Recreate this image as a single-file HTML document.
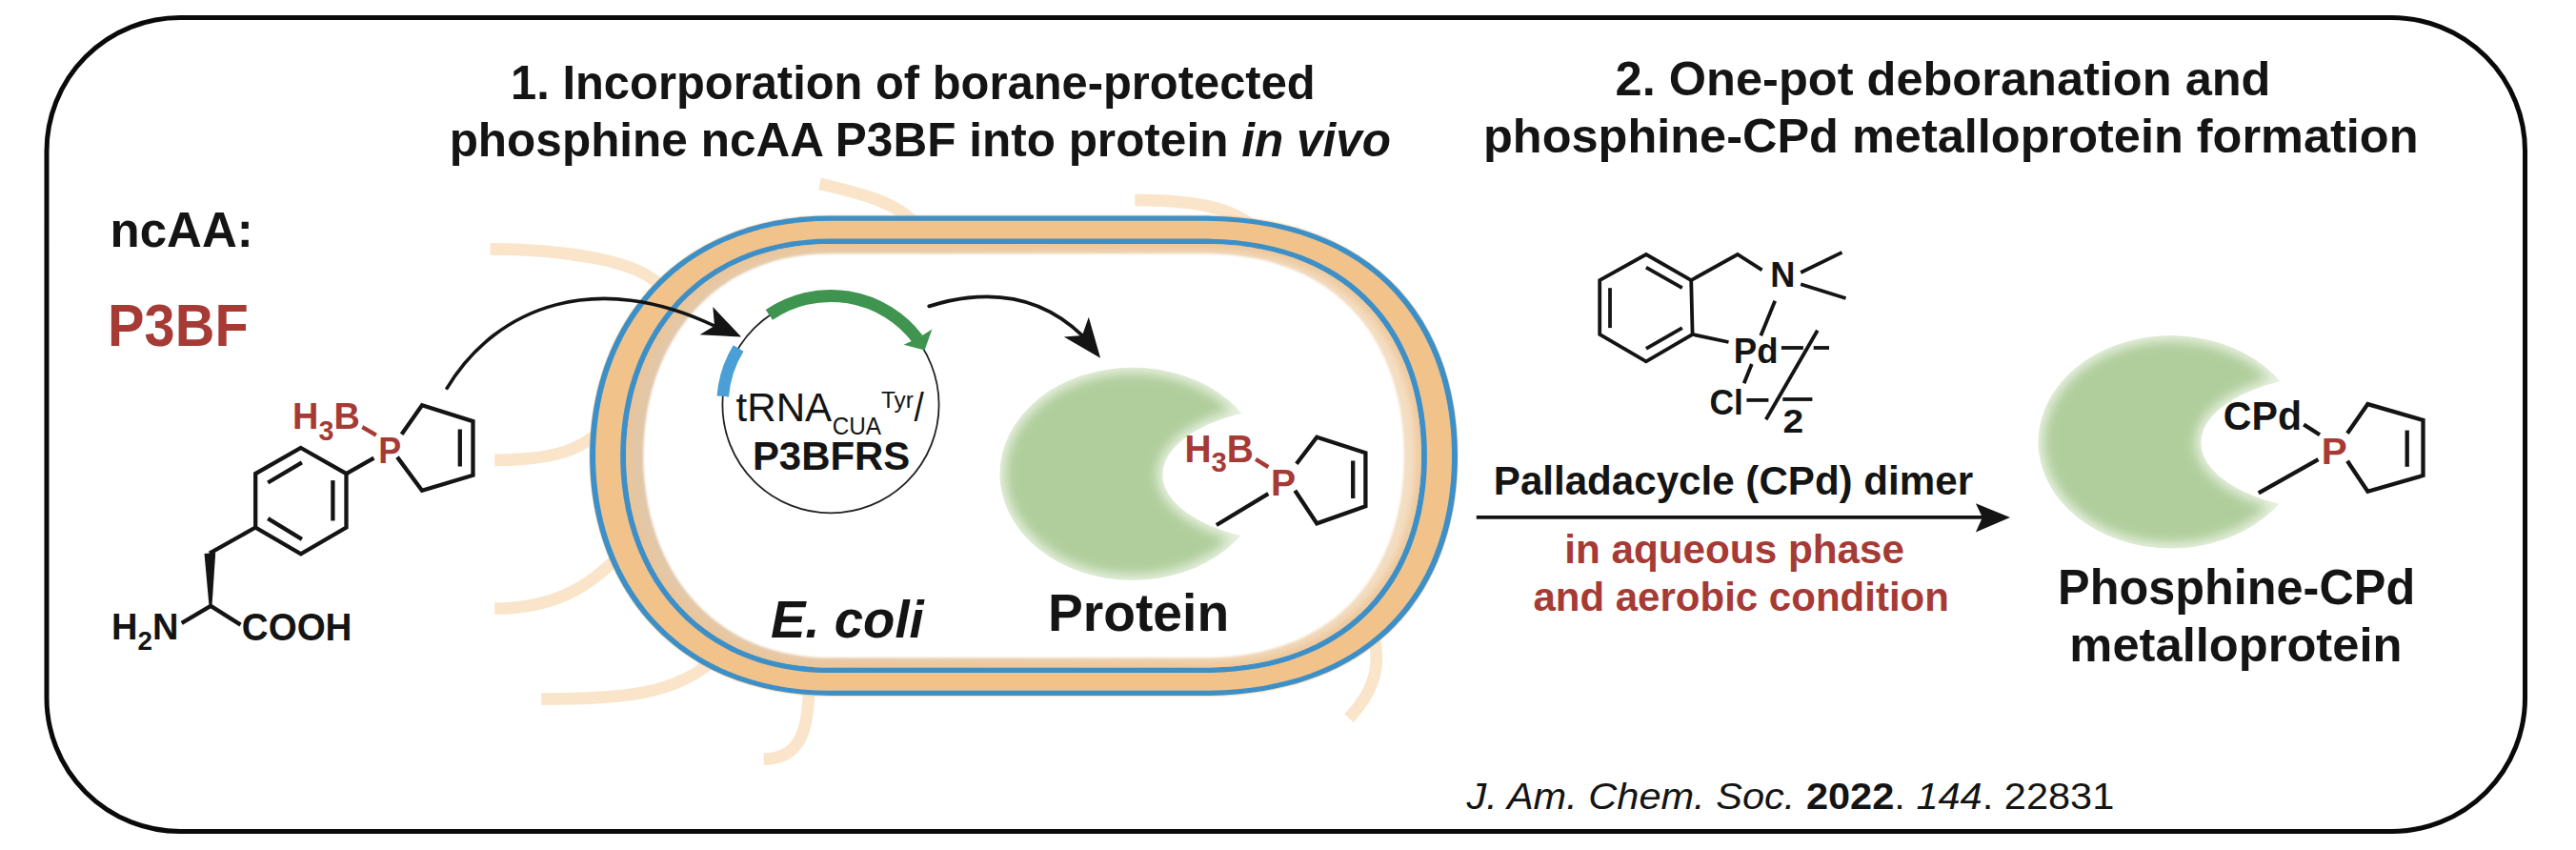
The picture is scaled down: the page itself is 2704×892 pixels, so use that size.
<!DOCTYPE html><html><head><meta charset='utf-8'><style>html,body{margin:0;padding:0;background:#fff;width:2704px;height:892px;overflow:hidden}svg{display:block}</style></head><body><svg width='2704' height='892' viewBox='0 0 2704 892' font-family='Liberation Sans, sans-serif'>
<defs><filter id='bl' x='-20%' y='-20%' width='140%' height='140%'><feGaussianBlur stdDeviation='6'/></filter><filter id='bl3' x='-10%' y='-10%' width='120%' height='120%'><feGaussianBlur stdDeviation='1.2'/></filter><filter id='bl4' x='-10%' y='-10%' width='120%' height='120%'><feGaussianBlur stdDeviation='4'/></filter><linearGradient id='bandg' gradientUnits='userSpaceOnUse' x1='620' y1='0' x2='1530' y2='0'><stop offset='0' stop-color='#e0c6a8'/><stop offset='0.5' stop-color='#ecd2b2'/><stop offset='1' stop-color='#f5e0c6'/></linearGradient></defs>
<rect width='2704' height='892' fill='#fff'/>
<rect x='49' y='18.5' width='2601.5' height='854' rx='140' ry='140' fill='none' stroke='#0a0a0a' stroke-width='5'/>
<path d='M514.6,261.4 C559.4,261.4 685.8,267.1 700,312' fill='none' stroke='#fae5cb' stroke-width='12.7'/>
<path d='M519.2,482.8 C592,482.8 612,470 648,438' fill='none' stroke='#fae5cb' stroke-width='12.7'/>
<path d='M519.2,638.6 C591.3,638.6 627.4,607.7 658,575' fill='none' stroke='#fae5cb' stroke-width='12.7'/>
<path d='M568.2,733.6 C650.5,733.6 709.4,730.1 752,690' fill='none' stroke='#fae5cb' stroke-width='12.7'/>
<path d='M801.7,796.6 C838,796 849,770 849,720' fill='none' stroke='#fae5cb' stroke-width='12.7'/>
<path d='M860.4,192.8 C900,202 945,212 965,240' fill='none' stroke='#fae5cb' stroke-width='12.7'/>
<path d='M1191.3,209.8 C1240,210 1290,214 1318,240' fill='none' stroke='#fae5cb' stroke-width='12.7'/>
<path d='M1416,753.6 C1441,727 1452,700 1440,660' fill='none' stroke='#fae5cb' stroke-width='12.7'/>
<path d='M871.80,225.50 L1263.50,225.50 C1446.84,225.50 1530.80,339.44 1530.80,478.30 C1530.80,617.16 1446.84,731.10 1263.50,731.10 L871.80,731.10 C707.08,731.10 618.30,614.86 618.30,478.30 C618.30,341.74 707.08,225.50 871.80,225.50 Z' fill='#f1c28a' opacity='0.5'/>
<path d='M871.80,226.60 L1263.50,226.60 C1446.29,226.60 1530.00,340.04 1530.00,478.30 C1530.00,616.56 1446.29,730.00 1263.50,730.00 L871.80,730.00 C707.59,730.00 619.10,614.27 619.10,478.30 C619.10,342.33 707.59,226.60 871.80,226.60 Z' fill='#3d8fc7'/>
<path d='M871.80,231.80 L1263.50,231.80 C1442.18,231.80 1524.00,342.90 1524.00,478.30 C1524.00,613.70 1442.18,724.80 1263.50,724.80 L871.80,724.80 C711.49,724.80 625.10,611.46 625.10,478.30 C625.10,345.14 711.49,231.80 871.80,231.80 Z' fill='#f1c28a'/>
<path d='M871.80,250.60 L1263.50,250.60 C1424.28,250.60 1497.90,353.22 1497.90,478.30 C1497.90,603.38 1424.28,706.00 1263.50,706.00 L871.80,706.00 C728.45,706.00 651.20,601.30 651.20,478.30 C651.20,355.30 728.45,250.60 871.80,250.60 Z' fill='#3d8fc7'/>
<clipPath id='bandclip'><path d='M871.80,256.00 L1263.50,256.00 C1420.23,256.00 1492.00,356.19 1492.00,478.30 C1492.00,600.41 1420.23,700.60 1263.50,700.60 L871.80,700.60 C732.29,700.60 657.10,598.39 657.10,478.30 C657.10,358.21 732.29,256.00 871.80,256.00 Z'/></clipPath>
<path d='M871.80,256.00 L1263.50,256.00 C1420.23,256.00 1492.00,356.19 1492.00,478.30 C1492.00,600.41 1420.23,700.60 1263.50,700.60 L871.80,700.60 C732.29,700.60 657.10,598.39 657.10,478.30 C657.10,358.21 732.29,256.00 871.80,256.00 Z' fill='url(#bandg)'/>
<g clip-path='url(#bandclip)'><path d='M871.80,256.00 L1263.50,256.00 C1420.23,256.00 1492.00,356.19 1492.00,478.30 C1492.00,600.41 1420.23,700.60 1263.50,700.60 L871.80,700.60 C732.29,700.60 657.10,598.39 657.10,478.30 C657.10,358.21 732.29,256.00 871.80,256.00 Z' fill='none' stroke='#edc494' stroke-width='10' filter='url(#bl4)'/></g>
<path d='M871.80,266.30 L1263.50,266.30 C1407.75,266.30 1473.80,361.85 1473.80,478.30 C1473.80,594.75 1407.75,690.30 1263.50,690.30 L871.80,690.30 C744.11,690.30 675.30,592.82 675.30,478.30 C675.30,363.78 744.11,266.30 871.80,266.30 Z' fill='#fff' filter='url(#bl3)'/>
<mask id='m1' maskUnits='userSpaceOnUse' x='0' y='0' width='2704' height='892'><ellipse cx='1188.9' cy='497.3' rx='139.5' ry='111.8' fill='#fff'/><ellipse cx='1372.8' cy='498.1' rx='152.5' ry='72.4' fill='#000'/></mask><mask id='mi1' maskUnits='userSpaceOnUse' x='0' y='0' width='2704' height='892'><ellipse cx='1188.9' cy='497.3' rx='133.5' ry='105.8' fill='#fff'/><ellipse cx='1372.8' cy='498.1' rx='158.5' ry='78.4' fill='#000'/></mask><g mask='url(#m1)'><ellipse cx='1188.9' cy='497.3' rx='139.5' ry='111.8' fill='#e6f0de'/><g filter='url(#bl)'><g mask='url(#mi1)'><ellipse cx='1188.9' cy='497.3' rx='139.5' ry='111.8' fill='#b0ce9c'/></g></g></g>
<mask id='m2' maskUnits='userSpaceOnUse' x='0' y='0' width='2704' height='892'><ellipse cx='2278.9' cy='463.8' rx='139.5' ry='111.8' fill='#fff'/><ellipse cx='2462.8' cy='464.6' rx='152.5' ry='72.4' fill='#000'/></mask><mask id='mi2' maskUnits='userSpaceOnUse' x='0' y='0' width='2704' height='892'><ellipse cx='2278.9' cy='463.8' rx='133.5' ry='105.8' fill='#fff'/><ellipse cx='2462.8' cy='464.6' rx='158.5' ry='78.4' fill='#000'/></mask><g mask='url(#m2)'><ellipse cx='2278.9' cy='463.8' rx='139.5' ry='111.8' fill='#e6f0de'/><g filter='url(#bl)'><g mask='url(#mi2)'><ellipse cx='2278.9' cy='463.8' rx='139.5' ry='111.8' fill='#b0ce9c'/></g></g></g>
<circle cx='872' cy='424.8' r='113.6' fill='none' stroke='#222' stroke-width='1.8'/>
<path d='M807.37,330.41 A114.39999999999999,114.39999999999999 0 0 1 963.36,355.95' fill='none' stroke='#3f944f' stroke-width='13'/>
<path d='M970.6,367.6 L948.5,361.8 L963.5,355 L978.4,345.6 Z' fill='#3f944f'/>
<path d='M758.75,415.89 A113.6,113.6 0 0 1 775.14,365.44' fill='none' stroke='#4a9fd6' stroke-width='12.5'/>
<path d='M468.4,408.6 C521.8,319.3 627.9,283.5 750,342' fill='none' stroke='#141414' stroke-width='3.6'/>
<path d='M778.1,353.5 L748.3,322.1 L750,342 L734.5,351.2 Z' fill='#141414'/>
<path d='M975.3,321.4 C1057.4,295.7 1106.8,324.0 1136,352' fill='none' stroke='#141414' stroke-width='3.8' stroke-linecap='round'/>
<path d='M1155.1,375.7 L1142.8,332.8 L1136,352 L1116.8,353.5 Z' fill='#141414'/>
<path d='M1549.8,542.9 L2082,542.9' fill='none' stroke='#141414' stroke-width='3.7'/>
<path d='M2110,542.9 L2073.9,528.2 L2080.9,542.9 L2073.9,558.5 Z' fill='#141414'/>
<path d='M315.8,470.0 L363.5,497.1 L363.5,553.5 L315.8,581.3 L268.2,553.5 L268.2,497.1 Z' fill='none' stroke='#141414' stroke-width='4.3' stroke-linecap='butt' stroke-linejoin='miter'/>
<path d='M281.2,506.5 L316.9,485.3' fill='none' stroke='#141414' stroke-width='4.3' stroke-linecap='butt' stroke-linejoin='miter'/>
<path d='M349.4,504.1 L349.4,546.5' fill='none' stroke='#141414' stroke-width='4.3' stroke-linecap='butt' stroke-linejoin='miter'/>
<path d='M281.2,544.1 L316.9,565.8' fill='none' stroke='#141414' stroke-width='4.3' stroke-linecap='butt' stroke-linejoin='miter'/>
<path d='M363.5,497.1 L392.5,480.6' fill='none' stroke='#141414' stroke-width='4.3' stroke-linecap='butt' stroke-linejoin='miter'/>
<path d='M268.2,553.5 L220.0,580.6' fill='none' stroke='#141414' stroke-width='4.3' stroke-linecap='butt' stroke-linejoin='miter'/>
<path d='M214.5,581 L226.2,580 L222.5,636 L219.5,636 Z' fill='#141414'/>
<path d='M221.2,635.9 L190.7,653.9' fill='none' stroke='#141414' stroke-width='4.3' stroke-linecap='butt' stroke-linejoin='miter'/>
<path d='M221.2,635.9 L252.5,655.6' fill='none' stroke='#141414' stroke-width='4.3' stroke-linecap='butt' stroke-linejoin='miter'/>
<path d='M380.3,448.2 L394.8,456.6' fill='none' stroke='#a63a35' stroke-width='4.3' stroke-linecap='butt' stroke-linejoin='miter'/>
<path d='M421.6,455.8 L443.0,425.2 L496.5,442.1 L496.5,498.7 L443.0,514.8 L417.0,479.6' fill='none' stroke='#141414' stroke-width='4.3' stroke-linecap='butt' stroke-linejoin='miter'/>
<path d='M482.8,450.5 L482.8,489.5' fill='none' stroke='#141414' stroke-width='4.3' stroke-linecap='butt' stroke-linejoin='miter'/>
<path d='M1318.1,481.9 L1331.3,490.1' fill='none' stroke='#a63a35' stroke-width='4.3' stroke-linecap='butt' stroke-linejoin='miter'/>
<path d='M1276.9,551.0 L1331.3,518.1' fill='none' stroke='#141414' stroke-width='4.3' stroke-linecap='butt' stroke-linejoin='miter'/>
<path d='M1360.9,486.8 L1382.3,458.8 L1433.4,475.3 L1433.4,531.3 L1382.3,549.4 L1359.3,514.8' fill='none' stroke='#141414' stroke-width='4.3' stroke-linecap='butt' stroke-linejoin='miter'/>
<path d='M1420.2,483.5 L1420.2,523.0' fill='none' stroke='#141414' stroke-width='4.3' stroke-linecap='butt' stroke-linejoin='miter'/>
<path d='M2418.2,445.5 L2435.0,456.2' fill='none' stroke='#141414' stroke-width='4.3' stroke-linecap='butt' stroke-linejoin='miter'/>
<path d='M2370.8,517.4 L2433.5,482.2' fill='none' stroke='#141414' stroke-width='4.3' stroke-linecap='butt' stroke-linejoin='miter'/>
<path d='M2464.0,454.7 L2485.4,424.1 L2543.5,440.9 L2543.5,499.0 L2485.4,515.8 L2464.0,483.7' fill='none' stroke='#141414' stroke-width='4.3' stroke-linecap='butt' stroke-linejoin='miter'/>
<path d='M2526.7,451.6 L2526.7,489.8' fill='none' stroke='#141414' stroke-width='4.3' stroke-linecap='butt' stroke-linejoin='miter'/>
<path d='M1727.9,267.0 L1775.2,294.1 L1776.6,350.9 L1727.9,379.3 L1679.2,350.9 L1679.2,294.1 Z' fill='none' stroke='#141414' stroke-width='3.8' stroke-linecap='butt' stroke-linejoin='miter'/>
<path d='M1727.9,280.6 L1765.8,302.2' fill='none' stroke='#141414' stroke-width='3.8' stroke-linecap='butt' stroke-linejoin='miter'/>
<path d='M1690.0,302.2 L1690.0,344.1' fill='none' stroke='#141414' stroke-width='3.8' stroke-linecap='butt' stroke-linejoin='miter'/>
<path d='M1765.8,344.1 L1727.9,365.8' fill='none' stroke='#141414' stroke-width='3.8' stroke-linecap='butt' stroke-linejoin='miter'/>
<path d='M1775.2,294.1 L1823.9,267.0 L1849.6,283.3' fill='none' stroke='#141414' stroke-width='3.8' stroke-linecap='butt' stroke-linejoin='miter'/>
<path d='M1890.2,286.0 L1933.5,264.9' fill='none' stroke='#141414' stroke-width='3.8' stroke-linecap='butt' stroke-linejoin='miter'/>
<path d='M1890.2,298.2 L1937.5,313.0' fill='none' stroke='#141414' stroke-width='3.8' stroke-linecap='butt' stroke-linejoin='miter'/>
<path d='M1863.2,315.7 L1848.3,352.3' fill='none' stroke='#141414' stroke-width='3.8' stroke-linecap='butt' stroke-linejoin='miter'/>
<path d='M1776.6,350.9 L1814.5,359.0' fill='none' stroke='#141414' stroke-width='3.8' stroke-linecap='butt' stroke-linejoin='miter'/>
<path d='M1838.8,382.0 L1830.7,402.3' fill='none' stroke='#141414' stroke-width='3.8' stroke-linecap='butt' stroke-linejoin='miter'/>
<path d='M1869.9,365.0 L1892.9,365.0' fill='none' stroke='#141414' stroke-width='3.8' stroke-linecap='butt' stroke-linejoin='miter'/>
<path d='M1903.7,365.0 L1920.0,365.0' fill='none' stroke='#141414' stroke-width='3.8' stroke-linecap='butt' stroke-linejoin='miter'/>
<path d='M1833.4,419.9 L1856.4,419.9' fill='none' stroke='#141414' stroke-width='3.8' stroke-linecap='butt' stroke-linejoin='miter'/>
<path d='M1907.8,346.8 L1853.7,440.2' fill='none' stroke='#141414' stroke-width='3.8' stroke-linecap='butt' stroke-linejoin='miter'/>
<path d='M1871.3,419.0 L1902.4,419.0' fill='none' stroke='#141414' stroke-width='3.8' stroke-linecap='butt' stroke-linejoin='miter'/>
<text transform='translate(536.07,103.70) scale(0.9779,1.0)' font-size='50' font-weight='bold' font-style='normal' fill='#141414'>1. Incorporation of borane-protected</text>
<text transform='translate(471.63,164.10) scale(0.9903,1.0)' font-size='50' font-weight='bold' font-style='normal' fill='#141414'>phosphine ncAA P3BF into protein <tspan font-style='italic'>in vivo</tspan></text>
<text transform='translate(1695.58,99.80) scale(1.0110,1.0)' font-size='50' font-weight='bold' font-style='normal' fill='#141414'>2. One-pot deboranation and</text>
<text transform='translate(1556.97,160.00) scale(1.0099,1.0)' font-size='50' font-weight='bold' font-style='normal' fill='#141414'>phosphine-CPd metalloprotein formation</text>
<text transform='translate(115.54,258.90) scale(1.0201,1.03)' font-size='50' font-weight='bold' font-style='normal' fill='#141414'>ncAA:</text>
<text transform='translate(113.09,363.00) scale(0.9786,1.06)' font-size='59' font-weight='bold' font-style='normal' fill='#a63a35'>P3BF</text>
<text transform='translate(307.05,449.70) scale(1.0246,1.045)' font-size='37' font-weight='bold' font-style='normal' fill='#a63a35'>H<tspan font-size='28' dy='12'>3</tspan><tspan dy='-12'>B</tspan></text>
<text transform='translate(397.37,486.40) scale(0.9429,1.045)' font-size='38' font-weight='bold' font-style='normal' fill='#a63a35'>P</text>
<text transform='translate(117.04,670.70) scale(1.0297,1.045)' font-size='37' font-weight='bold' font-style='normal' fill='#141414'>H<tspan font-size='27' dy='10.5'>2</tspan><tspan dy='-10.5'>N</tspan></text>
<text transform='translate(253.80,672.00) scale(1.0018,1.04)' font-size='38.5' font-weight='bold' font-style='normal' fill='#141414'>COOH</text>
<text transform='translate(772.50,441.80) scale(1.0040,1.03)' font-size='42' font-weight='normal' font-style='normal' fill='#141414'>tRNA</text>
<text transform='translate(873.71,455.90) scale(0.9922,1.04)' font-size='24.5' font-weight='normal' font-style='normal' fill='#141414'>CUA</text>
<text transform='translate(924.90,428.20) scale(0.9970,1.0)' font-size='24.5' font-weight='normal' font-style='normal' fill='#141414'>Tyr</text>
<text transform='translate(959.40,441.80) scale(0.8833,1.0)' font-size='42' font-weight='normal' font-style='normal' fill='#141414'>/</text>
<text transform='translate(789.91,492.90) scale(0.9975,1.02)' font-size='42' font-weight='bold' font-style='normal' fill='#141414'>P3BFRS</text>
<text transform='translate(808.91,668.50) scale(0.9932,1.02)' font-size='55' font-weight='bold' font-style='italic' fill='#141414'>E. coli</text>
<text transform='translate(1099.98,662.10) scale(1.0038,1.02)' font-size='55' font-weight='bold' font-style='normal' fill='#141414'>Protein</text>
<text transform='translate(1243.47,484.50) scale(1.0090,1.045)' font-size='38.5' font-weight='bold' font-style='normal' fill='#a63a35'>H<tspan font-size='29' dy='10'>3</tspan><tspan dy='-10'>B</tspan></text>
<text transform='translate(1334.08,519.50) scale(1.0591,1.045)' font-size='37' font-weight='bold' font-style='normal' fill='#a63a35'>P</text>
<text transform='translate(1858.33,300.90) scale(1.0333,1.04)' font-size='35' font-weight='bold' font-style='normal' fill='#141414'>N</text>
<text transform='translate(1819.77,380.70) scale(1.0167,1.03)' font-size='36' font-weight='bold' font-style='normal' fill='#141414'>Pd</text>
<text transform='translate(1794.52,434.80) scale(0.9848,1.04)' font-size='36' font-weight='bold' font-style='normal' fill='#141414'>Cl</text>
<text transform='translate(1871.52,453.70) scale(1.0833,1.0)' font-size='36' font-weight='bold' font-style='normal' fill='#141414'>2</text>
<text transform='translate(1567.79,518.50) scale(1.0032,1.0)' font-size='42' font-weight='bold' font-style='normal' fill='#141414'>Palladacycle (CPd) dimer</text>
<text transform='translate(1642.28,591.10) scale(1.0054,1.0)' font-size='42' font-weight='bold' font-style='normal' fill='#a63a35'>in aqueous phase</text>
<text transform='translate(1609.40,641.20) scale(1.0005,1.0)' font-size='42' font-weight='bold' font-style='normal' fill='#a63a35'>and aerobic condition</text>
<text transform='translate(2333.85,450.60) scale(1.0267,1.04)' font-size='40' font-weight='bold' font-style='normal' fill='#141414'>CPd</text>
<text transform='translate(2436.80,487.00) scale(1.0667,1.045)' font-size='38' font-weight='bold' font-style='normal' fill='#a63a35'>P</text>
<text transform='translate(2160.08,633.50) scale(1.0079,1.02)' font-size='50' font-weight='bold' font-style='normal' fill='#141414'>Phosphine-CPd</text>
<text transform='translate(2172.36,694.00) scale(1.0136,1.0)' font-size='50' font-weight='bold' font-style='normal' fill='#141414'>metalloprotein</text>
<text transform='translate(1539.60,848.90) scale(1.0656,1.0)' font-size='39' font-weight='normal' font-style='normal' fill='#141414'><tspan font-style='italic'>J. Am. Chem. Soc.</tspan> <tspan font-weight='bold'>2022</tspan>. <tspan font-style='italic'>144</tspan>. 22831</text>
</svg></body></html>
